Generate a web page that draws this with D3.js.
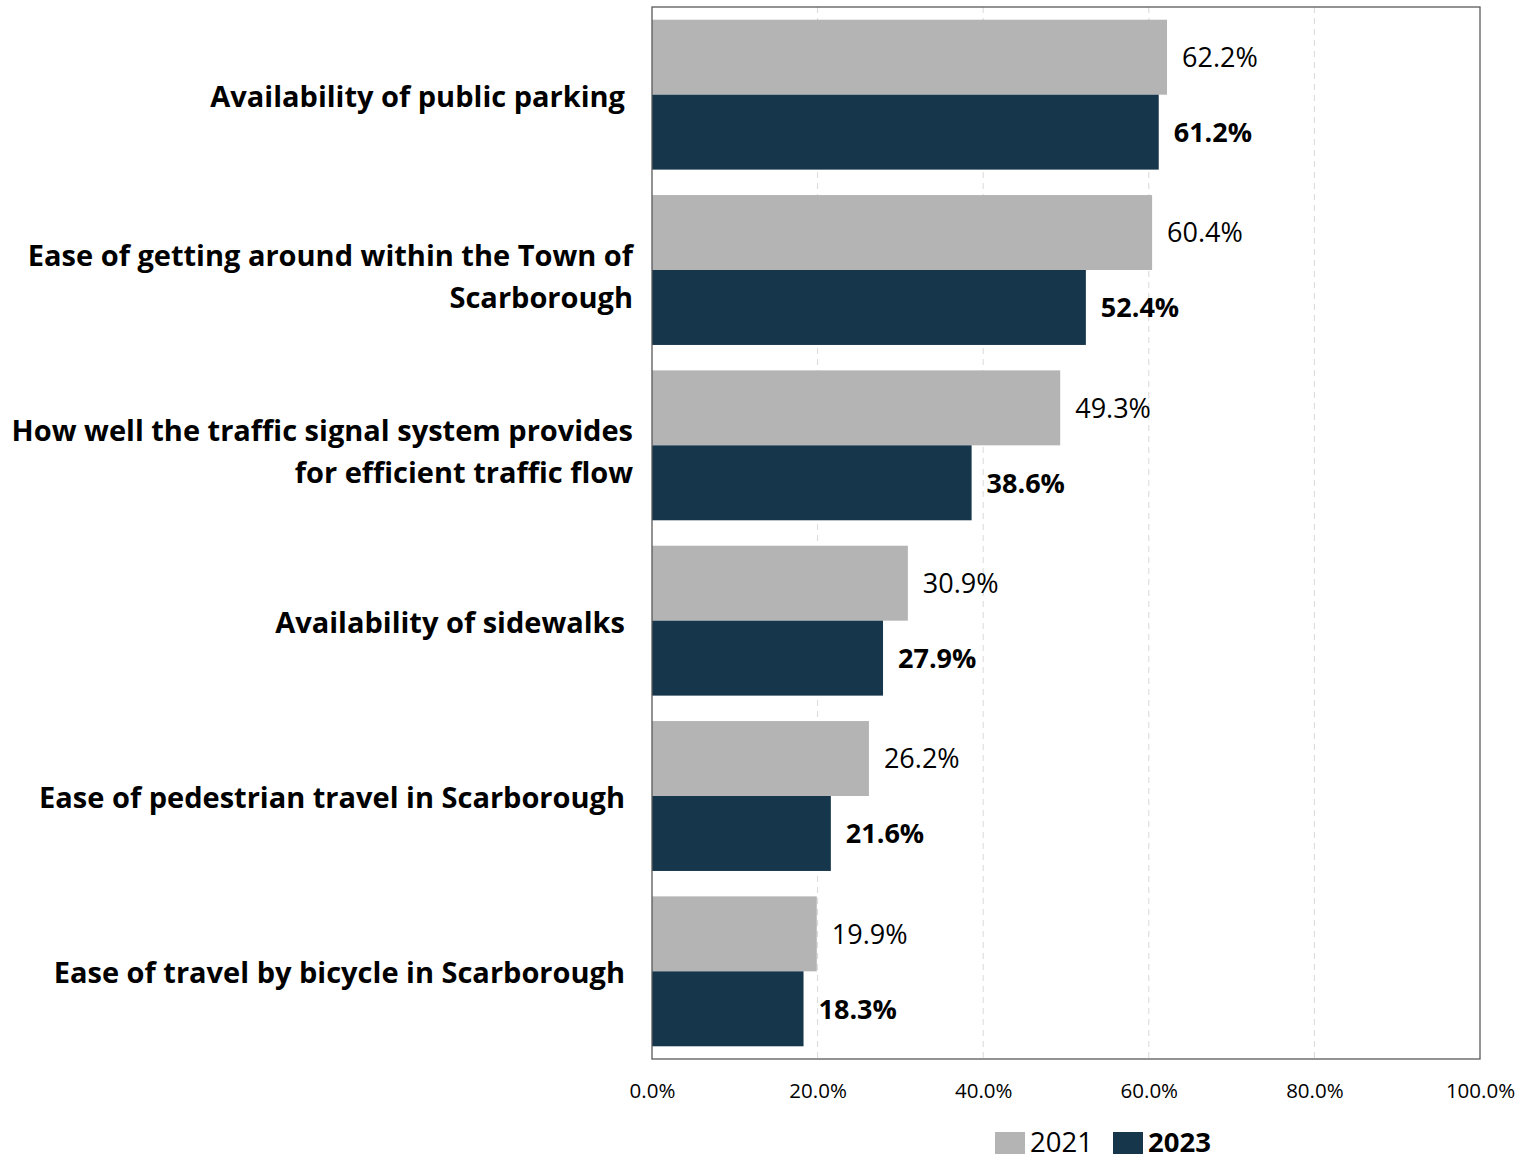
<!DOCTYPE html>
<html>
<head>
<meta charset="utf-8">
<script src="https://cdn.jsdelivr.net/npm/d3@7"></script>
<style>
  html, body { margin: 0; padding: 0; background: #fff; }
  svg { display: block; }
  text { font-family: "Open Sans", Lato, sans-serif; }
</style>
</head>
<body>
<svg id="chart" width="1521" height="1160"></svg>
<script>
// Survey items (one label line per array entry)
const categories = [
  ["Availability of public parking"],
  ["Ease of getting around within the Town of", "Scarborough"],
  ["How well the traffic signal system provides", "for efficient traffic flow"],
  ["Availability of sidewalks"],
  ["Ease of pedestrian travel in Scarborough"],
  ["Ease of travel by bicycle in Scarborough"]
];
const seriesNames = ["2021", "2023"];
const values2021 = [62.2, 60.4, 49.3, 30.9, 26.2, 19.9];
const values2023 = [61.2, 52.4, 38.6, 27.9, 21.6, 18.3];
const xTicks = [0, 20, 40, 60, 80, 100];

const colors = { "2021": "#b4b4b4", "2023": "#16364b" };

const svg = d3.select("#chart");
const plot = { left: 652, right: 1480, top: 7, bottom: 1059 };

const ids = categories.map((c, i) => i);
const x = d3.scaleLinear().domain([0, 100]).range([plot.left, plot.right]);
const y = d3.scaleBand().domain(ids).range([plot.top, plot.bottom])
  .paddingInner(0.145).paddingOuter(0.0725);
const ySub = d3.scaleBand().domain(seriesNames).range([0, y.bandwidth()]);

const rows = ids.map(i => ({ id: i, label: categories[i], "2021": values2021[i], "2023": values2023[i] }));

// gridlines
svg.append("g")
  .selectAll("line")
  .data(xTicks.filter(t => t > 0 && t < 100))
  .join("line")
  .attr("x1", d => x(d)).attr("x2", d => x(d))
  .attr("y1", plot.top).attr("y2", plot.bottom)
  .attr("stroke", "#d9d9d9").attr("stroke-width", 1)
  .attr("stroke-dasharray", "6,5");

// bars
const groups = svg.append("g").selectAll("g")
  .data(rows).join("g")
  .attr("transform", d => `translate(0,${y(d.id)})`);

groups.selectAll("rect")
  .data(d => seriesNames.map(s => ({ s, v: d[s] })))
  .join("rect")
  .attr("x", x(0))
  .attr("y", d => ySub(d.s))
  .attr("width", d => x(d.v) - x(0))
  .attr("height", ySub.bandwidth())
  .attr("fill", d => colors[d.s]);

groups.selectAll("text.val")
  .data(d => seriesNames.map(s => ({ s, v: d[s] })))
  .join("text")
  .attr("class", "val")
  .attr("x", d => x(d.v) + 15)
  .attr("y", d => ySub(d.s) + ySub.bandwidth() / 2)
  .attr("dy", "0.36em")
  .attr("font-size", 27)
  .attr("font-weight", d => d.s === "2023" ? 700 : 400)
  .attr("fill", "#000")
  .text(d => d.v.toFixed(1) + "%");

// plot frame
svg.append("rect")
  .attr("x", plot.left).attr("y", plot.top)
  .attr("width", plot.right - plot.left).attr("height", plot.bottom - plot.top)
  .attr("fill", "none").attr("stroke", "#595959").attr("stroke-width", 1.3);

// x axis
const xAxis = d3.axisBottom(x).tickValues(xTicks).tickSize(0).tickFormat(d => d.toFixed(1) + "%");
const gx = svg.append("g").attr("transform", `translate(0,${plot.bottom})`).call(xAxis);
gx.select(".domain").remove();
gx.selectAll("text")
  .attr("font-family", "'Open Sans', Lato, sans-serif")
  .attr("font-size", 20.5).attr("fill", "#000").attr("dy", "1.78em");

// category labels
const labelG = svg.append("g");
rows.forEach(r => {
  const n = r.label.length;
  const lh = 42;
  const cy = y(r.id) + y.bandwidth() / 2 + (n > 1 ? 7 : 2);
  const t = labelG.append("text")
    .attr("text-anchor", "end")
    .attr("font-size", 29)
    .attr("font-weight", 700)
    .attr("fill", "#000");
  r.label.forEach((line, k) => {
    t.append("tspan")
      .attr("x", n > 1 ? 633 : 625)
      .attr("y", cy + (k - (n - 1) / 2) * lh)
      .attr("dy", "0.35em")
      .text(line);
  });
});

// legend
const legend = svg.append("g").attr("transform", "translate(995,1143)");
let lx = 0;
seriesNames.forEach((s, i) => {
  legend.append("rect").attr("x", lx).attr("y", -11).attr("width", 30).attr("height", 22).attr("fill", colors[s]);
  legend.append("text").attr("x", lx + 35).attr("y", 9)
    .attr("font-size", 27.5).attr("font-weight", i === 1 ? 700 : 400).attr("fill", "#000").text(s);
  lx += 118;
});
</script>
</body>
</html>
